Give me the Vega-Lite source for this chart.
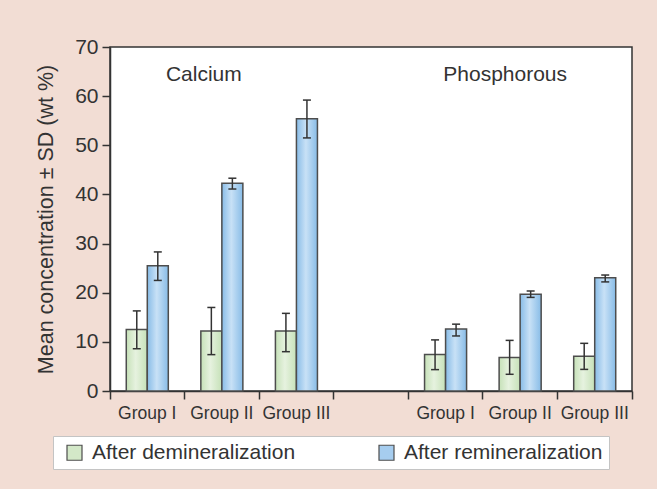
{
  "$schema": "https://vega.github.io/schema/vega-lite/v6.json",
  "width": 522,
  "height": 344,
  "autosize": {"type": "none"},
  "padding": {"left": 110, "top": 47, "right": 25, "bottom": 98},
  "background": "#f2ddd4",
  "view": {"fill": "white", "stroke": "#333333", "strokeWidth": 1.5},
  "config": {
    "font": "Liberation Sans",
    "text": {"font": "Liberation Sans"},
    "legend": {
      "orient": "none",
      "legendX": -57,
      "legendY": 389,
      "direction": "horizontal",
      "symbolType": "square",
      "symbolSize": 225,
      "symbolStrokeColor": "#4d4d4d",
      "symbolStrokeWidth": 1.2,
      "labelFontSize": 21,
      "labelColor": "#333333",
      "labelLimit": 400,
      "labelOffset": 7,
      "symbolOffset": 5,
      "fillColor": "white",
      "strokeColor": "#c4c4c4",
      "padding": 6,
      "columnPadding": 75
    }
  },
  "datasets": {
    "bars": [
      {"key": "Ca-I", "series": "After demineralization", "mean": 12.5, "lo": 8.6, "hi": 16.3},
      {"key": "Ca-I", "series": "After remineralization", "mean": 25.5, "lo": 22.5, "hi": 28.3},
      {"key": "Ca-II", "series": "After demineralization", "mean": 12.2, "lo": 7.4, "hi": 17.0},
      {"key": "Ca-II", "series": "After remineralization", "mean": 42.3, "lo": 41.1, "hi": 43.3},
      {"key": "Ca-III", "series": "After demineralization", "mean": 12.2, "lo": 8.0, "hi": 15.8},
      {"key": "Ca-III", "series": "After remineralization", "mean": 55.4, "lo": 51.5, "hi": 59.2},
      {"key": "P-I", "series": "After demineralization", "mean": 7.45, "lo": 4.35, "hi": 10.4},
      {"key": "P-I", "series": "After remineralization", "mean": 12.6, "lo": 11.2, "hi": 13.6},
      {"key": "P-II", "series": "After demineralization", "mean": 6.8, "lo": 3.4, "hi": 10.3},
      {"key": "P-II", "series": "After remineralization", "mean": 19.7, "lo": 19.05, "hi": 20.35},
      {"key": "P-III", "series": "After demineralization", "mean": 7.05, "lo": 4.4, "hi": 9.7},
      {"key": "P-III", "series": "After remineralization", "mean": 23.05, "lo": 22.2, "hi": 23.6}
    ],
    "labels": [
      {"key": "Ca-II", "mean": 64.3, "text": "Calcium"},
      {"key": "P-II", "mean": 64.3, "text": "Phosphorous"}
    ]
  },
  "encoding": {
    "x": {
      "field": "key",
      "type": "nominal",
      "sort": ["Ca-I", "Ca-II", "Ca-III", "gap", "P-I", "P-II", "P-III"],
      "scale": {"domain": ["Ca-I", "Ca-II", "Ca-III", "gap", "P-I", "P-II", "P-III"], "paddingInner": 0, "paddingOuter": 0},
      "axis": {
        "title": null,
        "labelAngle": 0,
        "bandPosition": 1,
        "tickExtra": true,
        "labelExpr": "isString(datum.value) && indexof(datum.value, '-') >= 0 ? 'Group ' + split(datum.value, '-')[1] : ''",
        "labelFontSize": 17.5,
        "labelColor": "#333333",
        "labelPadding": 5,
        "domainColor": "#333333",
        "domainWidth": 1.5,
        "tickColor": "#333333",
        "tickWidth": 1.5,
        "tickSize": 8,
        "grid": false
      }
    },
    "y": {
      "field": "mean",
      "type": "quantitative",
      "scale": {"domain": [0, 70], "nice": false},
      "axis": {
        "title": "Mean concentration ± SD (wt %)",
        "values": [0, 10, 20, 30, 40, 50, 60, 70],
        "grid": false,
        "domainColor": "#333333",
        "domainWidth": 1.5,
        "tickColor": "#333333",
        "tickWidth": 1.5,
        "tickSize": 8,
        "labelFontSize": 21,
        "labelColor": "#333333",
        "labelPadding": 4,
        "titleFontSize": 21.5,
        "titleFontWeight": "normal",
        "titleColor": "#333333",
        "titlePadding": 17
      }
    }
  },
  "layer": [
    {
      "data": {"name": "bars"},
      "mark": {"type": "bar"},
      "encoding": {
        "xOffset": {"field": "series", "type": "nominal", "scale": {"paddingOuter": 0.774, "paddingInner": 0}},
        "fill": {
          "field": "series",
          "type": "nominal",
          "scale": {"domain": ["After demineralization", "After remineralization"], "range": ["#d3e8c8", "#a6cdef"]},
          "legend": {"title": null}
        }
      }
    },
    {
      "data": {"name": "bars"},
      "mark": {"type": "bar", "stroke": "#4d4d4d", "strokeWidth": 1.5},
      "encoding": {
        "xOffset": {"field": "series", "type": "nominal"},
        "fill": {
          "condition": {
            "test": "datum.series == 'After demineralization'",
            "value": {"gradient": "linear", "x1": 0, "y1": 0, "x2": 1, "y2": 0, "stops": [{"offset": 0, "color": "#c6e1b8"}, {"offset": 0.45, "color": "#e6f2df"}, {"offset": 1, "color": "#c6e1b8"}]}
          },
          "value": {"gradient": "linear", "x1": 0, "y1": 0, "x2": 1, "y2": 0, "stops": [{"offset": 0, "color": "#88bce7"}, {"offset": 0.45, "color": "#c8e1f6"}, {"offset": 1, "color": "#88bce7"}]}
        }
      }
    },
    {
      "data": {"name": "bars"},
      "mark": {"type": "rule", "color": "#333333", "strokeWidth": 1.5},
      "encoding": {
        "xOffset": {"field": "series", "type": "nominal"},
        "y": {"field": "lo", "type": "quantitative"},
        "y2": {"field": "hi"}
      }
    },
    {
      "data": {"name": "bars"},
      "mark": {"type": "tick", "color": "#333333", "thickness": 1.5, "size": 8, "opacity": 1},
      "encoding": {
        "xOffset": {"field": "series", "type": "nominal"},
        "y": {"field": "lo", "type": "quantitative"}
      }
    },
    {
      "data": {"name": "bars"},
      "mark": {"type": "tick", "color": "#333333", "thickness": 1.5, "size": 8, "opacity": 1},
      "encoding": {
        "xOffset": {"field": "series", "type": "nominal"},
        "y": {"field": "hi", "type": "quantitative"}
      }
    },
    {
      "data": {"name": "labels"},
      "transform": [{"filter": "datum.text == 'Calcium'"}],
      "mark": {"type": "text", "fontSize": 21, "color": "#333333", "baseline": "middle", "dx": -18},
      "encoding": {"text": {"field": "text"}}
    },
    {
      "data": {"name": "labels"},
      "transform": [{"filter": "datum.text == 'Phosphorous'"}],
      "mark": {"type": "text", "fontSize": 21, "color": "#333333", "baseline": "middle", "dx": -15},
      "encoding": {"text": {"field": "text"}}
    }
  ]
}
